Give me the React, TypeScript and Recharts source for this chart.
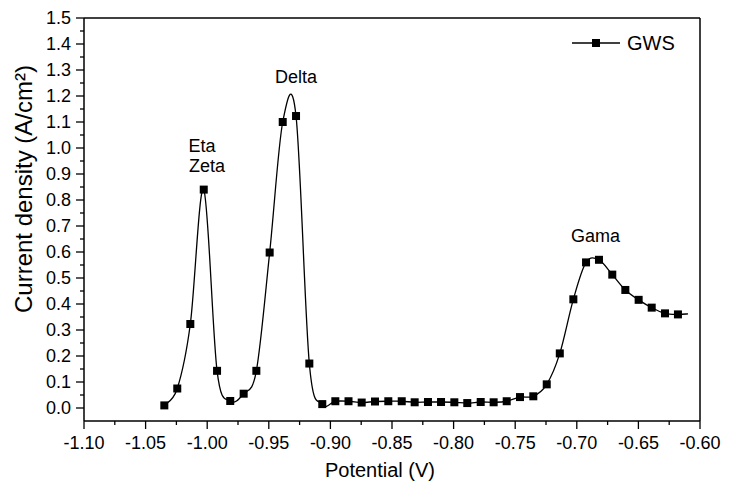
import React from 'react';
import { LineChart, Line, XAxis, YAxis, ReferenceLine, ReferenceDot, Legend } from 'recharts';

// potential (V) of each measured point
const potential = [
  -1.0348, -1.0243, -1.0137, -1.0028, -0.992, -0.9813, -0.9704, -0.9601, -0.9493, -0.9387,
  -0.9279, -0.9171, -0.9066, -0.896, -0.8853, -0.8746, -0.8638, -0.853, -0.8421, -0.8316,
  -0.8208, -0.8102, -0.7994, -0.7889, -0.778, -0.7675, -0.7569, -0.7461, -0.7353, -0.7244,
  -0.7138, -0.7028, -0.6925, -0.682, -0.6712, -0.6606, -0.6498, -0.6392, -0.6284, -0.6179,
  -0.6097,
];

// current density (A/cm2) for GWS
const current = [
  0.01, 0.075, 0.323, 0.84, 0.143, 0.027, 0.055, 0.143, 0.598, 1.1,
  1.123, 0.171, 0.015, 0.026, 0.026, 0.021, 0.025, 0.026, 0.026, 0.022,
  0.023, 0.023, 0.022, 0.019, 0.023, 0.022, 0.026, 0.042, 0.045, 0.091,
  0.21, 0.418, 0.56, 0.57, 0.513, 0.454, 0.416, 0.386, 0.364, 0.36,
  0.362,
];

// the last point only ends the curve, it has no symbol
const markerCount = 40;

const xMajorTicks = [-1.1, -1.05, -1.0, -0.95, -0.9, -0.85, -0.8, -0.75, -0.7, -0.65, -0.6];
const yMajorTicks = [0, 0.1, 0.2, 0.3, 0.4, 0.5, 0.6, 0.7, 0.8, 0.9, 1.0, 1.1, 1.2, 1.3, 1.4, 1.5];

const peakNames = ['Eta', 'Zeta', 'Delta', 'Gama'];
const peakX = [-1.0042, -1.0002, -0.9279, -0.6848];
const peakY = [1.008, 0.931, 1.274, 0.663];

const data = potential.map((x, i) => ({ x, y: current[i] }));

const withMinor = (major: number[]) =>
  [...major, ...major.slice(1).map((t, i) => (t + major[i]) / 2)].sort((a, b) => a - b);

const isMajor = (list: number[], v: number) => list.some((t) => Math.abs(t - v) < 1e-6);

const FONT = '"Liberation Sans", Arial, sans-serif';

// Catmull-Rom spline, closer to Origin's spline than d3's natural curve
const catmullRom = (context: any) => {
  let pts: number[][] = [];
  return {
    areaStart() {},
    areaEnd() {},
    lineStart() {
      pts = [];
    },
    point(x: number, y: number) {
      pts.push([x, y]);
    },
    lineEnd() {
      if (!pts.length) return;
      context.moveTo(pts[0][0], pts[0][1]);
      for (let i = 0; i < pts.length - 1; i++) {
        const p0 = pts[i - 1] || pts[i];
        const p1 = pts[i];
        const p2 = pts[i + 1];
        const p3 = pts[i + 2] || p2;
        context.bezierCurveTo(
          p1[0] + (p2[0] - p0[0]) / 6,
          p1[1] + (p2[1] - p0[1]) / 6,
          p2[0] - (p3[0] - p1[0]) / 6,
          p2[1] - (p3[1] - p1[1]) / 6,
          p2[0],
          p2[1]
        );
      }
    },
  };
};

const XTick = (props: any) => {
  const { x, y, payload } = props;
  const major = isMajor(xMajorTicks, payload.value);
  return (
    <g>
      <line x1={x} x2={x} y1={y} y2={y + (major ? 8 : 4)} stroke="#000" strokeWidth={1.3} />
      {major && (
        <text x={x} y={y + 22} textAnchor="middle" dominantBaseline="central" fontSize={18} fontFamily={FONT} fill="#000">
          {payload.value.toFixed(2)}
        </text>
      )}
    </g>
  );
};

const YTick = (props: any) => {
  const { x, y, payload } = props;
  const major = isMajor(yMajorTicks, payload.value);
  return (
    <g>
      <line x1={x} x2={x - (major ? 8 : 4)} y1={y} y2={y} stroke="#000" strokeWidth={1.3} />
      {major && (
        <text x={x - 13} y={y} textAnchor="end" dominantBaseline="central" fontSize={18} fontFamily={FONT} fill="#000">
          {payload.value.toFixed(1)}
        </text>
      )}
    </g>
  );
};

const YTitle = (props: any) => {
  const { viewBox } = props;
  const cx = viewBox.x + 23;
  const cy = 189;
  return (
    <text x={cx} y={cy} transform={`rotate(-90 ${cx} ${cy})`} textAnchor="middle" dominantBaseline="central" fontSize={24} fontFamily={FONT} fill="#000">
      Current density (A/cm²)
    </text>
  );
};

const XTitle = (props: any) => {
  const { viewBox } = props;
  return (
    <text x={viewBox.x + viewBox.width / 2 - 12} y={viewBox.y + 49} textAnchor="middle" dominantBaseline="central" fontSize={20} fontFamily={FONT} fill="#000">
      Potential (V)
    </text>
  );
};

const SquareDot = (props: any) => {
  const { cx, cy, index } = props;
  if (index >= markerCount) return <g key={`d-${index}`} />;
  return <rect key={`d-${index}`} x={cx - 4} y={cy - 4} width={8} height={8} fill="#000" />;
};

const LegendBox = () => (
  <svg width={110} height={26}>
    <line x1={0} x2={48} y1={13} y2={13} stroke="#000" strokeWidth={1.3} />
    <rect x={20} y={9} width={8} height={8} fill="#000" />
    <text x={55} y={13} dominantBaseline="central" fontSize={20} fontFamily={FONT} fill="#000">
      GWS
    </text>
  </svg>
);

export default function App() {
  return (
    <div style={{ position: 'absolute', left: 0, top: 0, background: '#fff' }}>
      <LineChart width={729} height={482} data={data} margin={{ top: 18, right: 29, bottom: 0, left: 0 }}>
        <XAxis
          dataKey="x"
          type="number"
          domain={[-1.1, -0.6]}
          ticks={withMinor(xMajorTicks)}
          interval={0}
          tickSize={0}
          tickMargin={0}
          tick={<XTick />}
          height={61}
          stroke="#000"
          strokeWidth={1.5}
          allowDataOverflow
          label={<XTitle />}
        />
        <YAxis
          type="number"
          domain={[-0.05, 1.5]}
          ticks={withMinor(yMajorTicks)}
          interval={0}
          tickSize={0}
          tickMargin={0}
          tick={<YTick />}
          width={84}
          stroke="#000"
          strokeWidth={1.5}
          allowDataOverflow
          label={<YTitle />}
        />
        <ReferenceLine y={1.5} stroke="#000" strokeWidth={1.5} />
        <ReferenceLine x={-0.6} stroke="#000" strokeWidth={1.5} />
        {peakNames.map((name, i) => (
          <ReferenceDot
            key={name}
            x={peakX[i]}
            y={peakY[i]}
            r={0}
            fill="none"
            stroke="none"
            label={{ value: name, position: 'center', fill: '#000', fontSize: 18, fontFamily: FONT }}
          />
        ))}
        <Legend
          layout="horizontal"
          verticalAlign="middle"
          align="center"
          wrapperStyle={{ top: 30, left: 572, width: 110 }}
          content={() => <LegendBox />}
        />
        <Line
          type={catmullRom as any}
          dataKey="y"
          name="GWS"
          stroke="#000"
          strokeWidth={1.3}
          dot={SquareDot}
          activeDot={false}
          isAnimationActive={false}
        />
      </LineChart>
    </div>
  );
}
